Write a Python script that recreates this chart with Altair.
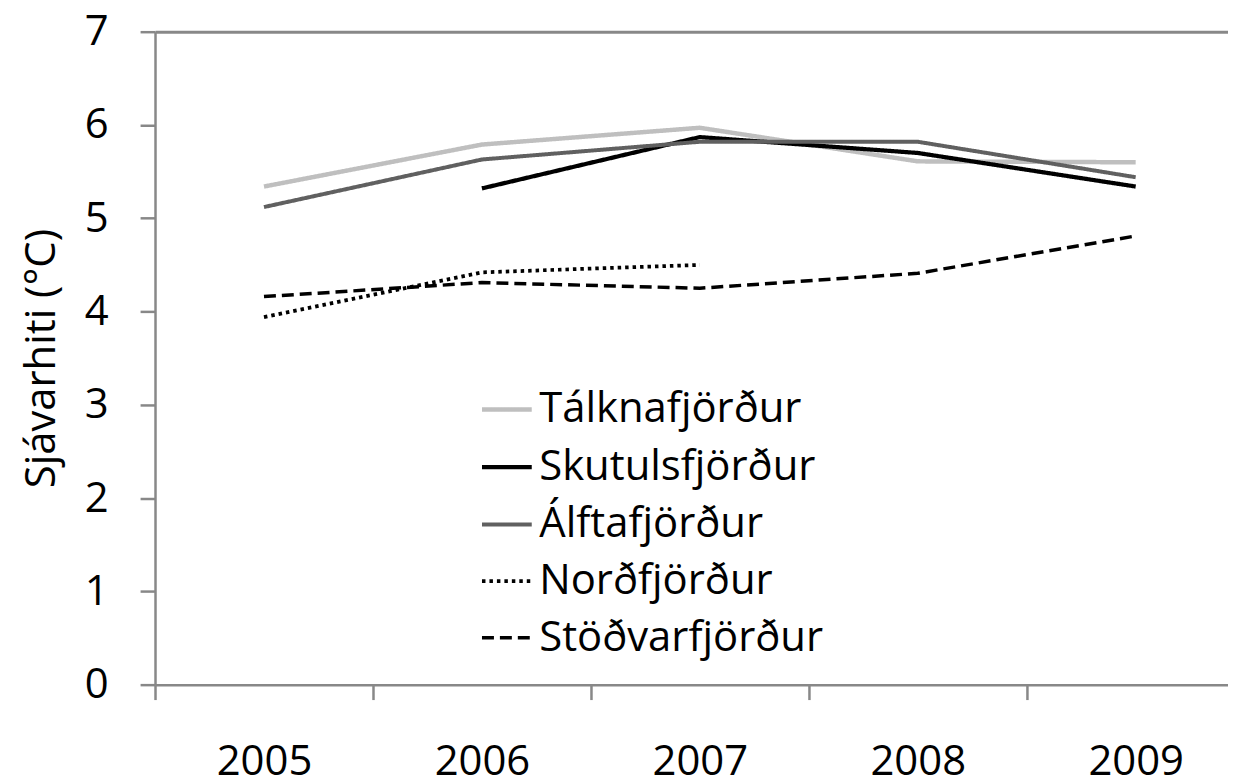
import altair as alt
import pandas as pd

years = [2005, 2006, 2007, 2008, 2009]
series_names = ["Tálknafjörður", "Skutulsfjörður", "Álftafjörður", "Norðfjörður", "Stöðvarfjörður"]
talknafjordur = [5.34, 5.79, 5.97, 5.61, 5.60]
skutulsfjordur = [None, 5.32, 5.87, 5.70, 5.34]
alftafjordur = [5.12, 5.63, 5.82, 5.82, 5.44]
nordfjordur = [3.94, 4.42, 4.50, None, None]
stodvarfjordur = [4.16, 4.31, 4.25, 4.41, 4.81]
y_ticks = [0, 1, 2, 3, 4, 5, 6, 7]

colors = ["#bfbfbf", "#000000", "#606060", "#000000", "#000000"]
dashes = [[1, 0], [1, 0], [1, 0], [3.5, 4], [12, 6]]
widths = [4.5, 3.5, 3.5, 3.5, 3.5]

values = [talknafjordur, skutulsfjordur, alftafjordur, nordfjordur, stodvarfjordur]
rows = []
for name, vals in zip(series_names, values):
    for yr, v in zip(years, vals):
        if v is not None:
            rows.append({"year": yr, "value": v, "series": name})
df = pd.DataFrame(rows)

FONT = "Open Sans"
AX = "#888888"

legend = alt.Legend(
    title=None, orient="none", legendX=326, legendY=352,
    symbolType="stroke", symbolSize=2500, symbolStrokeWidth=3.5,
    labelFont=FONT, labelFontSize=42, labelColor="#000000",
    labelLimit=500, labelOffset=5, rowPadding=9, padding=0,
)

chart = alt.Chart(df).mark_line().encode(
    x=alt.X("year:Q",
            scale=alt.Scale(domain=[2004.5, 2009.4237], nice=False, zero=False),
            axis=alt.Axis(
                values=[2004.5, 2005.5, 2006.5, 2007.5, 2008.5],
                labelExpr="format(datum.value + 0.5, 'd')",
                labelOffset=109.5, labelFlush=False, labelOverlap=False,
                labelFont=FONT, labelFontSize=42, labelColor="#000000",
                labelPadding=42, tickSize=15, tickColor=AX, tickWidth=2.5,
                domainColor=AX, domainWidth=2.5, grid=False, title=None,
            )),
    y=alt.Y("value:Q",
            scale=alt.Scale(domain=[0, 7], nice=False),
            axis=alt.Axis(
                values=y_ticks, format="d",
                labelFont=FONT, labelFontSize=42, labelColor="#000000",
                labelPadding=32, tickSize=15, tickColor=AX, tickWidth=2.5,
                domainColor=AX, domainWidth=2.5,
                grid=True, gridColor=AX, gridWidth=3,
                gridOpacity={"condition": {"test": "datum.value === 7", "value": 1}, "value": 0},
                title="Sjávarhiti (°C)", titleFont=FONT, titleFontSize=42,
                titleFontWeight="normal", titleColor="#000000", titlePadding=21,
            )),
    color=alt.Color("series:N", scale=alt.Scale(domain=series_names, range=colors), legend=legend),
    strokeDash=alt.StrokeDash("series:N", scale=alt.Scale(domain=series_names, range=dashes), legend=legend),
    strokeWidth=alt.StrokeWidth("series:N", scale=alt.Scale(domain=series_names, range=widths), legend=None),
    order=alt.Order("series:N"),
).properties(
    width=1078, height=656,
    autosize=alt.AutoSizeParams(type="none"),
    padding={"left": 147.7, "top": 22, "right": 0, "bottom": 95},
).configure_view(stroke=None).configure(background="white")

chart.save("out.html", embed_options={"renderer": "svg", "actions": False})
